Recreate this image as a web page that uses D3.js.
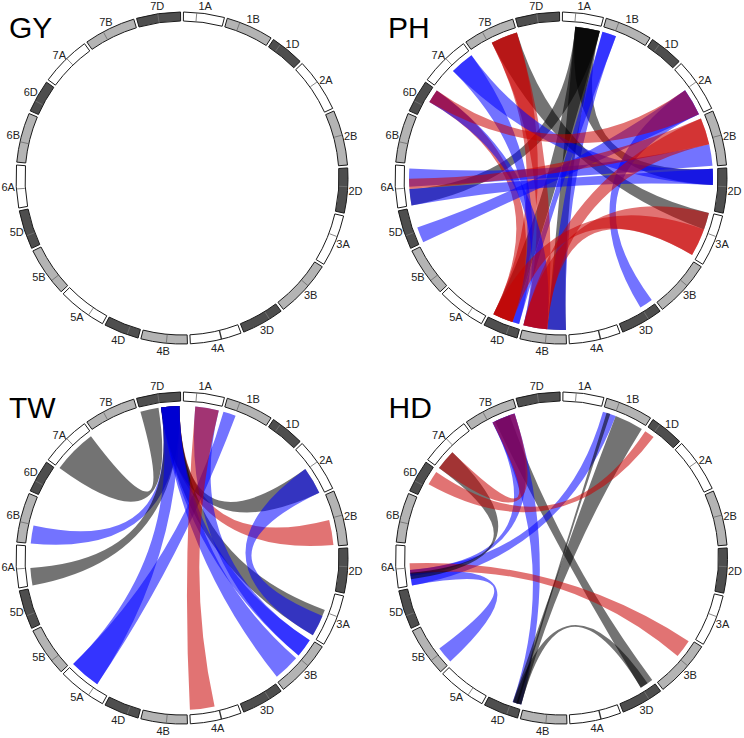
<!DOCTYPE html>
<html><head><meta charset="utf-8">
<script src="https://cdn.jsdelivr.net/npm/d3@7"></script>
<style>body{margin:0;background:#fff}svg{display:block}</style>
</head><body><svg id="chart" width="744" height="738"></svg>
<script>
// ---------- data ----------
const chromosomes = ["1A","1B","1D","2A","2B","2D","3A","3B","3D","4A","4B","4D","5A","5B","5D","6A","6B","6D","7A","7B","7D"];
const chromSizes  = [594,689,495,780,801,651,750,830,615,744,673,509,709,713,566,618,720,473,736,750,638]; // Mb
const centromeres = [191,189,122,340,365,269,310,340,202,292,302,164,235,211,194,275,295,160,404,277,311]; // Mb
const panelNames = ["GY","PH","TW","HD"];
const effectTypes = ["red","blue","black"];
// ribbons: [chrA, startMb, endMb, chrB, startMb, endMb, effect]
const ribbonsGY = [];
const ribbonsPH = [
  ["1A",203,593,"4B",0,294,"black"],
  ["1A",203,593,"6A",0,258,"black"],
  ["1A",203,593,"2D",0,253,"black"],
  ["1A",203,593,"4D",135,458,"black"],
  ["1B",0,223,"4B",0,294,"blue"],
  ["1B",0,223,"4D",27,135,"blue"],
  ["7B",327,750,"3A",3,272,"black"],
  ["7B",327,750,"4D",135,458,"red"],
  ["7B",327,750,"4B",294,672,"red"],
  ["7A",350,731,"2D",0,253,"blue"],
  ["7A",350,731,"4D",27,135,"blue"],
  ["6D",255,470,"4D",135,458,"red"],
  ["6D",255,470,"4B",294,672,"blue"],
  ["6A",296,582,"2B",456,796,"blue"],
  ["6A",0,258,"2D",0,253,"blue"],
  ["5D",3,252,"2A",345,780,"blue"],
  ["3D",0,214,"2A",345,780,"blue"],
  ["3A",3,712,"4B",294,672,"red"],
  ["3A",272,712,"4D",135,458,"red"],
  ["2B",33,456,"6A",258,420,"red"],
  ["2B",33,456,"4B",294,672,"red"],
  ["2A",345,780,"6D",255,470,"red"]
];
const ribbonsTW = [
  ["7D",330,618,"2B",385,783,"red"],
  ["7A",0,702,"7D",0,290,"black"],
  ["7D",330,618,"6B",0,283,"blue"],
  ["7D",330,618,"6A",0,275,"black"],
  ["7D",330,618,"5A",219,709,"blue"],
  ["1B",0,200,"5A",219,709,"blue"],
  ["2A",324,755,"7D",330,618,"black"],
  ["7D",330,618,"3A",281,720,"black"],
  ["2A",324,755,"3A",380,720,"blue"],
  ["7D",330,618,"3B",20,315,"blue"],
  ["1A",187,560,"3B",20,315,"blue"],
  ["7D",330,618,"3B",373,791,"blue"],
  ["1A",187,560,"4A",350,740,"red"]
];
const ribbonsHD = [
  ["7B",373,621,"3D",0,218,"black"],
  ["7B",331,705,"4D",0,140,"blue"],
  ["7B",331,705,"6A",150,245,"blue"],
  ["1B",210,666,"4D",0,140,"black"],
  ["1B",0,210,"6A",0,245,"blue"],
  ["1B",60,120,"4D",50,80,"black"],
  ["6A",0,200,"5B",12,281,"blue"],
  ["6A",184,349,"3B",37,327,"red"],
  ["7A",0,325,"6A",100,200,"black"],
  ["7A",0,325,"7B",331,705,"red"],
  ["6D",213,441,"1D",0,160,"red"],
  ["4D",0,130,"3D",90,215,"black"]
];
const panelRibbons = [ribbonsGY, ribbonsPH, ribbonsTW, ribbonsHD];

// ---------- layout ----------
const svg = d3.select("#chart");
const centers = [[182,178],[561,178],[182,558],[561.5,558]];
const rOuter = 166, rInner = 157, rRibbon = 152, rLabel = 174;
const gapDeg = 1, offsetDeg = 0.5;
const total = d3.sum(chromSizes);
const degPerMb = (360 - gapDeg*chromosomes.length) / total;
const cumStart = [0, ...d3.cumsum(chromSizes)];
const rad = Math.PI/180;
const chrIndex = new Map(chromosomes.map((c,i)=>[c,i]));
const chrStart = i => offsetDeg + i*gapDeg + cumStart[i]*degPerMb;
const angleScale = chromosomes.map((c,i) => d3.scaleLinear()
  .domain([0, chromSizes[i]])
  .range([chrStart(i)*rad, (chrStart(i) + chromSizes[i]*degPerMb)*rad]));
const ang = (chr, mb) => angleScale[chrIndex.get(chr)](mb);

const genomeFill = {A:"#ffffff", B:"#b4b4b4", D:"#4e4e4e"};
const effectColor = d3.scaleOrdinal().domain(effectTypes).range(["#c80000","#0000ff","#000000"]);

const arc = d3.arc().innerRadius(rInner).outerRadius(rOuter);
const ribbon = d3.ribbon().radius(rRibbon);

panelNames.forEach((name, p) => {
  const [cx, cy] = centers[p];
  const g = svg.append("g").attr("transform", `translate(${cx},${cy})`);

  // ribbons
  g.append("g").selectAll("path")
    .data(panelRibbons[p])
    .join("path")
    .attr("d", d => ribbon({
      source: {startAngle: ang(d[0], d[1]), endAngle: ang(d[0], d[2])},
      target: {startAngle: ang(d[3], d[4]), endAngle: ang(d[3], d[5])}
    }))
    .attr("fill", d => effectColor(d[6]))
    .attr("fill-opacity", 0.55);

  // chromosome ring
  const seg = g.append("g").selectAll("g")
    .data(chromosomes.map((c,i) => ({name:c, i})))
    .join("g");
  seg.append("path")
    .attr("d", d => arc({startAngle: angleScale[d.i].range()[0], endAngle: angleScale[d.i].range()[1]}))
    .attr("fill", d => genomeFill[d.name[1]])
    .attr("stroke", "#1a1a1a").attr("stroke-width", 1);
  // 4A dark band
  seg.filter(d => d.name === "4A").append("path")
    .attr("d", d => arc({startAngle: angleScale[d.i](centromeres[d.i]-10), endAngle: angleScale[d.i](centromeres[d.i]+10)}))
    .attr("fill", "#333");
  // centromere dividers
  seg.filter(d => d.name !== "4A").append("line")
    .each(function(d){
      const a = angleScale[d.i](centromeres[d.i]) - Math.PI/2;
      d3.select(this)
        .attr("x1", (rInner+0.5)*Math.cos(a)).attr("y1", (rInner+0.5)*Math.sin(a))
        .attr("x2", (rOuter-0.5)*Math.cos(a)).attr("y2", (rOuter-0.5)*Math.sin(a));
    })
    .attr("stroke", d => d.name[1] === "D" ? "#777" : "#6a6a6a").attr("stroke-width", 0.8);
  // labels
  seg.append("text")
    .attr("x", d => rLabel*Math.cos(d3.mean(angleScale[d.i].range()) - Math.PI/2))
    .attr("y", d => rLabel*Math.sin(d3.mean(angleScale[d.i].range()) - Math.PI/2))
    .attr("text-anchor", "middle").attr("dominant-baseline", "central")
    .attr("font-family", "Liberation Sans, Arial, sans-serif").attr("font-size", 11)
    .attr("fill", "#222")
    .text(d => d.name);

  // title
  svg.append("text")
    .attr("x", cx - 173).attr("y", cy - 140)
    .attr("font-family", "Liberation Sans, Arial, sans-serif").attr("font-size", 30)
    .attr("fill", "#000")
    .text(name);
});
</script>
</body></html>
